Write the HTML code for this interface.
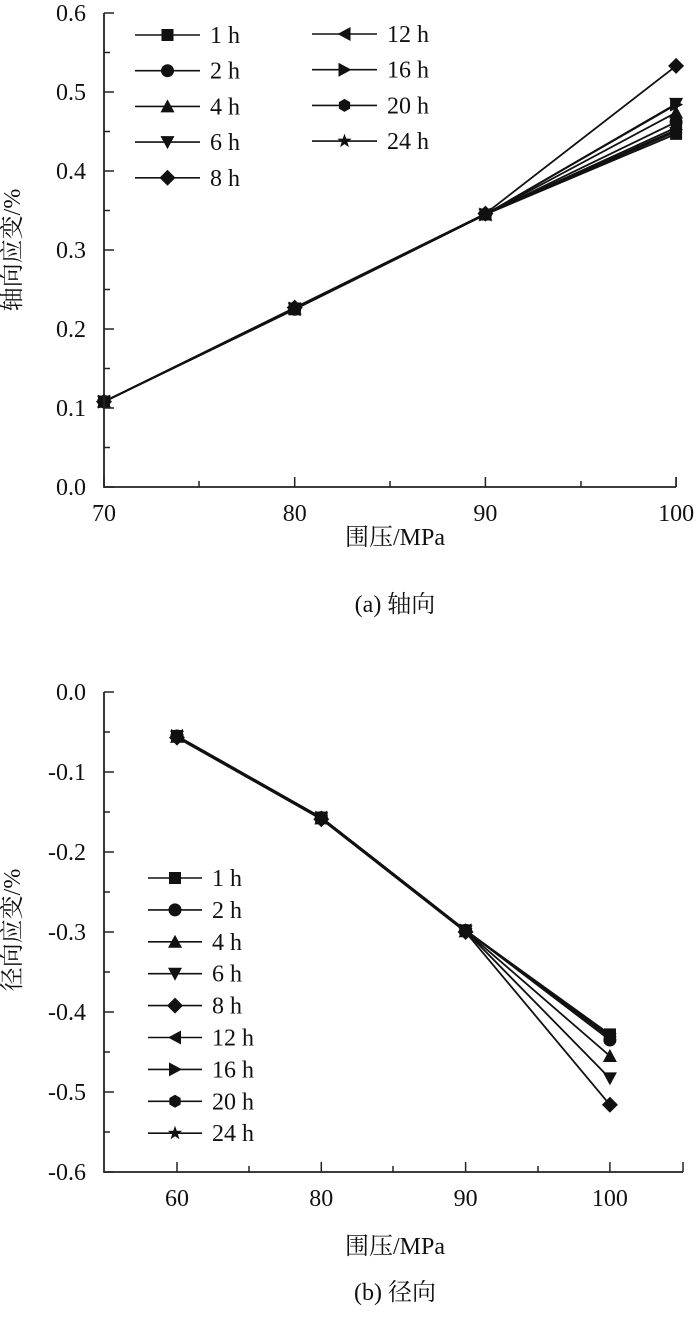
<!DOCTYPE html>
<html><head><meta charset="utf-8"><style>
body{margin:0;background:#fff}
svg text{font-family:"Liberation Serif","Noto Serif CJK SC","Noto Sans CJK SC",serif;fill:#111}
</style></head><body>
<svg id="svg" width="700" height="1312" xmlns="http://www.w3.org/2000/svg"></svg>
<script>
const series = ["1 h","2 h","4 h","6 h","8 h","12 h","16 h","20 h","24 h"];
const markers = ["square","circle","tri-up","tri-down","diamond","tri-left","tri-right","hexagon","star"];
const catsA = [70,80,90,100];
const valsA = [
 [0.108,0.225,0.345,0.447],
 [0.108,0.225,0.345,0.462],
 [0.108,0.226,0.345,0.474],
 [0.108,0.226,0.345,0.485],
 [0.108,0.227,0.346,0.533],
 [0.108,0.225,0.345,0.455],
 [0.108,0.226,0.345,0.484],
 [0.108,0.225,0.345,0.452],
 [0.108,0.225,0.345,0.450]
];
const ticksA = [0.0,0.1,0.2,0.3,0.4,0.5,0.6];
const catsB = [60,80,90,100];
const valsB = [
 [-0.055,-0.157,-0.298,-0.428],
 [-0.055,-0.157,-0.298,-0.435],
 [-0.056,-0.158,-0.299,-0.455],
 [-0.056,-0.158,-0.299,-0.483],
 [-0.057,-0.159,-0.300,-0.516],
 [-0.055,-0.157,-0.298,-0.430],
 [-0.055,-0.157,-0.298,-0.431],
 [-0.055,-0.157,-0.298,-0.432],
 [-0.056,-0.157,-0.298,-0.430]
];
const ticksB = [0.0,-0.1,-0.2,-0.3,-0.4,-0.5,-0.6];

const NS="http://www.w3.org/2000/svg", svg=document.getElementById('svg');
const FS=24;
function el(tag,attrs,parent){const e=document.createElementNS(NS,tag);for(const k in attrs)e.setAttribute(k,attrs[k]);(parent||svg).appendChild(e);return e;}
function txt(x,y,s,size,anchor,parent){const t=el('text',{x:x,y:y,'font-size':size,'text-anchor':anchor||'middle'},parent);t.textContent=s;return t;}
function marker(type,x,y,g){
 const r=7;let e;
 if(type==='square')e=el('rect',{x:x-6,y:y-6,width:12,height:12},g);
 else if(type==='circle')e=el('circle',{cx:x,cy:y,r:6.5},g);
 else if(type==='tri-up')e=el('polygon',{points:`${x},${y-r} ${x+r},${y+6} ${x-r},${y+6}`},g);
 else if(type==='tri-down')e=el('polygon',{points:`${x},${y+r} ${x+r},${y-6} ${x-r},${y-6}`},g);
 else if(type==='diamond')e=el('polygon',{points:`${x},${y-8} ${x+8},${y} ${x},${y+8} ${x-8},${y}`},g);
 else if(type==='tri-left')e=el('polygon',{points:`${x-r},${y} ${x+6},${y-r} ${x+6},${y+r}`},g);
 else if(type==='tri-right')e=el('polygon',{points:`${x+r},${y} ${x-6},${y-r} ${x-6},${y+r}`},g);
 else if(type==='hexagon'){let p=[];for(let i=0;i<6;i++){const a=Math.PI/3*i+Math.PI/2;p.push((x+6.5*Math.cos(a))+','+(y+6.5*Math.sin(a)));}e=el('polygon',{points:p.join(' ')},g);}
 else {let p=[];for(let i=0;i<10;i++){const a=-Math.PI/2+Math.PI/5*i,rr=i%2?3:7.5;p.push((x+rr*Math.cos(a))+','+(y+rr*Math.sin(a)));}e=el('polygon',{points:p.join(' ')},g);}
 e.setAttribute('fill','#111');
 
 
}
function chart(o){
 const g=el('g',{});
 
 
 const ys=v=>o.y0+(v-o.v0)/(o.v1-o.v0)*(o.y1-o.y0);
 const xs=i=>o.xc[0]+i*o.dx;
 o.vals.forEach((row,si)=>{
  const sg=el('g',{},g);
  
  
  const pl=el('polyline',{points:row.map((v,i)=>xs(i)+','+ys(v)).join(' '),fill:'none',stroke:'#111','stroke-width':1.8},sg);
  
  
  row.forEach((v,i)=>marker(markers[si],xs(i),ys(v),sg));
 });
 const ax=el('path',{d:`M${o.ax} ${o.top}V${o.bot}H${o.right}`,fill:'none',stroke:'#222','stroke-width':1.8},g);
 
 
 o.ticks.forEach((v,i)=>{
  const y=ys(v);
  el('line',{x1:o.ax,x2:o.ax+10,y1:y,y2:y,stroke:'#222','stroke-width':1.5},g);
  if(i<o.ticks.length-1){const ym=ys((v+o.ticks[i+1])/2);el('line',{x1:o.ax,x2:o.ax+6,y1:ym,y2:ym,stroke:'#222','stroke-width':1.5},g);}
  const t=txt(o.ax-18,y+8,v.toFixed(1),FS,'end',g);
  
  
 });
 o.cats.forEach((c,i)=>{
  const x=xs(i);
  el('line',{x1:x,x2:x,y1:o.bot,y2:o.bot-10,stroke:'#222','stroke-width':1.5},g);
  const t=txt(x,o.bot+34,String(c),FS,'middle',g);
  
  
 });
 o.minorX.forEach(x=>el('line',{x1:x,x2:x,y1:o.bot,y2:o.bot-6,stroke:'#222','stroke-width':1.5},g));
 el('line',{x1:o.right,x2:o.right,y1:o.bot,y2:o.bot-10,stroke:'#222','stroke-width':1.5},g);
 const yt=txt(0,0,o.ytitle,FS,'middle',g);
 yt.setAttribute('transform',`translate(${o.ytx},${o.yty}) rotate(-90)`);
 
 
 const xt=txt(o.xtx,o.xty,'围压/MPa',FS,'middle',g);
 
 
 const cap=txt(o.xtx,o.capy,o.caption,FS,'middle',g);
 
 
 const lg=el('g',{},g);
 
 
 series.forEach((s,i)=>{
  const p=o.legendPos(i);
  const eg=el('g',{},lg);
  
  
  el('line',{x1:p.x1,x2:p.x2,y1:p.y,y2:p.y,stroke:'#111','stroke-width':1.6},eg);
  marker(markers[i],(p.x1+p.x2)/2,p.y,eg);
  txt(p.x2+10,p.y+8,s,FS,'start',eg);
 });
}
chart({name:'axial-chart',vals:valsA,cats:catsA,ticks:ticksA,v0:0,v1:0.6,y0:487,y1:13,
 xc:[104],dx:190.7,ax:104,top:13,bot:487,right:676,minorX:[199,390,581],
 ytitle:'轴向应变/%',ytx:20,yty:250,xtx:395,xty:545,capy:612,caption:'(a) 轴向',
 legendPos:i=>i<5?{x1:135,x2:200,y:35+i*35.7}:{x1:312,x2:377,y:34+(i-5)*35.7}});
chart({name:'radial-chart',vals:valsB,cats:catsB,ticks:ticksB,v0:0,v1:-0.6,y0:692,y1:1172,
 xc:[177],dx:144.3,ax:104,top:692,bot:1172,right:683,minorX:[249,393,538],
 ytitle:'径向应变/%',ytx:20,yty:930,xtx:395,xty:1254,capy:1300,caption:'(b) 径向',
 legendPos:i=>({x1:148,x2:202,y:878+i*31.9})});
</script>
</body></html>
